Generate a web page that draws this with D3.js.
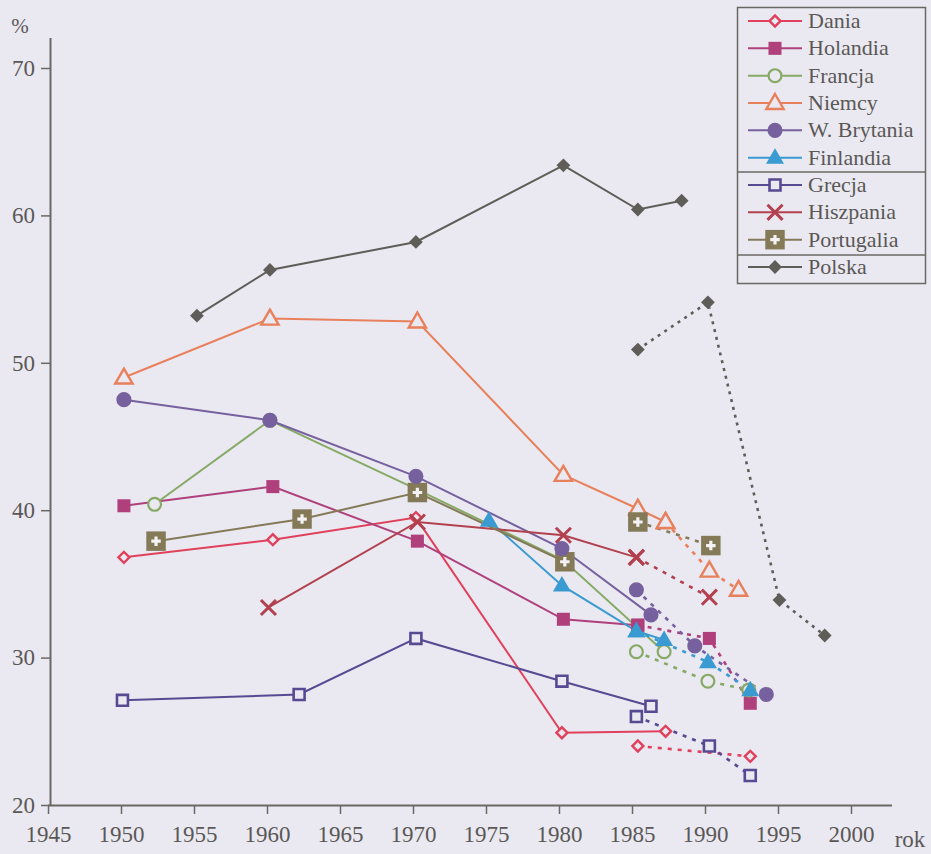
<!DOCTYPE html>
<html><head><meta charset="utf-8">
<script src="https://cdn.jsdelivr.net/npm/d3@7"></script>
<style>
html,body{margin:0;padding:0;background:#eae9f1;}
svg{display:block;}
</style></head>
<body>
<svg id="chart" width="931" height="854"></svg>
<script>
// ---- data (year, %) ----
const seriesNames = ["Dania","Holandia","Francja","Niemcy","W. Brytania","Finlandia","Grecja","Hiszpania","Portugalia","Polska"];
const xTicks = [1945,1950,1955,1960,1965,1970,1975,1980,1985,1990,1995,2000];
const yTicks = [20,30,40,50,60,70];

const daniaSolid = [[1950.2,36.8],[1960.4,38.0],[1970.2,39.5],[1980.2,24.9],[1987.3,25.0]];
const daniaDotted = [[1985.4,24.0],[1993.1,23.3]];
const holandiaSolid = [[1950.2,40.3],[1960.4,41.6],[1970.3,37.9],[1980.3,32.6],[1985.4,32.2]];
const holandiaDotted = [[1985.4,32.2],[1990.3,31.3],[1993.1,26.9]];
const francjaSolid = [[1952.3,40.4],[1960.2,46.1],[1970.3,41.4],[1980.3,36.6],[1987.2,30.4]];
const francjaDotted = [[1985.3,30.4],[1990.2,28.4],[1993.0,27.8]];
const niemcySolid = [[1950.2,49.0],[1960.2,53.0],[1970.3,52.8],[1980.3,42.4],[1985.4,40.1],[1987.3,39.2]];
const niemcyDotted = [[1987.3,39.2],[1990.3,35.9],[1992.3,34.6]];
const brytaniaSolid = [[1950.2,47.5],[1960.2,46.1],[1970.2,42.3],[1980.2,37.4],[1986.3,32.9]];
const brytaniaDotted = [[1985.3,34.6],[1989.3,30.8],[1994.2,27.5]];
const finlandiaSolid = [[1975.2,39.3],[1980.2,34.9],[1985.3,31.8],[1987.2,31.2]];
const finlandiaDotted = [[1985.3,31.8],[1990.2,29.7],[1993.1,27.8]];
const grecjaSolid = [[1950.1,27.1],[1962.2,27.5],[1970.2,31.3],[1980.2,28.4],[1986.3,26.7]];
const grecjaDotted = [[1985.3,26.0],[1990.3,24.0],[1993.1,22.0]];
const hiszpaniaSolid = [[1960.1,33.4],[1970.3,39.2],[1980.3,38.3],[1985.3,36.8]];
const hiszpaniaDotted = [[1985.3,36.8],[1990.3,34.1]];
const portugaliaSolid = [[1952.4,37.9],[1962.4,39.4],[1970.3,41.2],[1980.4,36.5]];
const portugaliaDotted = [[1985.4,39.2],[1990.4,37.6]];
const polskaSolid = [[1955.2,53.2],[1960.2,56.3],[1970.2,58.2],[1980.3,63.4],[1985.4,60.4],[1988.4,61.0]];
const polskaDotted = [[1985.4,50.9],[1990.2,54.1],[1995.1,33.9],[1998.2,31.5]];

const solidData = [daniaSolid,holandiaSolid,francjaSolid,niemcySolid,brytaniaSolid,finlandiaSolid,grecjaSolid,hiszpaniaSolid,portugaliaSolid,polskaSolid];
const dottedData = [daniaDotted,holandiaDotted,francjaDotted,niemcyDotted,brytaniaDotted,finlandiaDotted,grecjaDotted,hiszpaniaDotted,portugaliaDotted,polskaDotted];

// ---- styles ----
const FONT = "Liberation Serif";
const TXT = "#5a5856";
const BG = "#eae9f1";
const colors = ["#e0405c","#b0407c","#86aa66","#e8805c","#76609e","#3a9ad2","#584a92","#b2404e","#857a58","#5e5d58"];
const markers = ["diamondOpen","squareFilled","circleOpen","triangleOpen","circleFilled","triangleFilled","squareOpen","times","portugal","diamondFilled"];

const svg = d3.select("#chart");
const x = d3.scaleLinear().domain([1945,2000]).range([48,851]);
const y = d3.scaleLinear().domain([20,70]).range([805,68]);

function serif(sel, size){
  sel.attr("font-family", FONT).attr("font-size", size).attr("fill", TXT);
  return sel;
}

// axes
const xAxis = d3.axisBottom(x).tickValues(xTicks).tickSize(9).tickPadding(12).tickFormat(d3.format("d"));
const gx = svg.append("g").attr("transform","translate(0,805)").call(xAxis).attr("font-family",FONT).attr("font-size",23);
gx.select(".domain").attr("d","M48,0.5H892").attr("stroke","#6a6864").attr("stroke-width",2);
gx.selectAll(".tick line").attr("stroke","#6a6864").attr("stroke-width",1.5);
serif(gx.selectAll(".tick text"), 23);

const yAxis = d3.axisLeft(y).tickValues(yTicks).tickSize(9).tickPadding(6);
const gy = svg.append("g").attr("transform","translate(50,0)").call(yAxis).attr("font-family",FONT).attr("font-size",23);
gy.select(".domain").attr("d","M0.5,"+y(20)+"V38").attr("stroke","#6a6864").attr("stroke-width",2);
gy.selectAll(".tick line").attr("stroke","#6a6864").attr("stroke-width",1.5);
serif(gy.selectAll(".tick text"), 23);

serif(svg.append("text").attr("x",20).attr("y",33).attr("text-anchor","middle").text("%"), 21);
serif(svg.append("text").attr("x",910).attr("y",847).attr("text-anchor","middle").text("rok"), 23);

const line = d3.line().x(d=>x(d[0])).y(d=>y(d[1]));

// lines
const gl = svg.append("g");
solidData.forEach((s,i)=>{
  gl.append("path").attr("d",line(s)).attr("fill","none").attr("stroke",colors[i]).attr("stroke-width",2);
});
dottedData.forEach((s,i)=>{
  gl.append("path").attr("d",line(s)).attr("fill","none").attr("stroke",colors[i]).attr("stroke-width",2.6)
    .attr("stroke-dasharray", i===9 ? "3,5" : "4,6");
});

function drawMarker(g, type, color, cx, cy){
  const m = g.append("g").attr("transform",`translate(${cx},${cy})`);
  const sym = (t,size)=>d3.symbol().type(t).size(size)();
  switch(type){
    case "diamondOpen":
      m.append("path").attr("d",sym(d3.symbolSquare,60)).attr("transform","rotate(45)").attr("fill",BG).attr("stroke",color).attr("stroke-width",2.4); break;
    case "diamondFilled":
      m.append("path").attr("d",sym(d3.symbolSquare,95)).attr("transform","rotate(45)").attr("fill",color); break;
    case "squareFilled":
      m.append("path").attr("d",sym(d3.symbolSquare,170)).attr("fill",color); break;
    case "squareOpen":
      m.append("path").attr("d",sym(d3.symbolSquare,120)).attr("fill",BG).attr("stroke",color).attr("stroke-width",2.6); break;
    case "circleOpen":
      m.append("path").attr("d",sym(d3.symbolCircle,130)).attr("fill",BG).attr("stroke",color).attr("stroke-width",2.2); break;
    case "circleFilled":
      m.append("path").attr("d",sym(d3.symbolCircle,180)).attr("fill",color); break;
    case "triangleOpen":
      m.append("path").attr("d",sym(d3.symbolTriangle,130)).attr("transform","translate(0,1)").attr("fill",BG).attr("stroke",color).attr("stroke-width",2.4); break;
    case "triangleFilled":
      m.append("path").attr("d",sym(d3.symbolTriangle,140)).attr("transform","translate(0,1)").attr("fill",color); break;
    case "times":
      m.append("path").attr("d",sym(d3.symbolTimes,150)).attr("fill","none").attr("stroke",color).attr("stroke-width",3); break;
    case "portugal":
      m.append("path").attr("d",sym(d3.symbolSquare,380)).attr("fill",color);
      m.append("path").attr("d",sym(d3.symbolCross,50)).attr("fill","#f4f2f4"); break;
  }
}

// markers
const gm = svg.append("g");
const order = [0,1,2,3,8,9,6,7,5,4]; // draw order
order.forEach(i=>{
  solidData[i].concat(dottedData[i]).forEach(d=>drawMarker(gm, markers[i], colors[i], x(d[0]), y(d[1])));
});

// legend
const lg = svg.append("g");
lg.append("rect").attr("x",737.5).attr("y",7.5).attr("width",188).attr("height",276).attr("fill",BG).attr("stroke","#6a6864").attr("stroke-width",1.5);
lg.append("line").attr("x1",737.5).attr("x2",925.5).attr("y1",172).attr("y2",172).attr("stroke","#6a6864").attr("stroke-width",1.5);
lg.append("line").attr("x1",737.5).attr("x2",925.5).attr("y1",255).attr("y2",255).attr("stroke","#6a6864").attr("stroke-width",1.5);
const legendY = d3.scaleLinear().domain([0,9]).range([21,267]);
seriesNames.forEach((name,i)=>{
  const yy = legendY(i);
  lg.append("line").attr("x1",748).attr("x2",802).attr("y1",yy).attr("y2",yy).attr("stroke",colors[i]).attr("stroke-width",2);
  drawMarker(lg, markers[i], colors[i], 775, yy);
  serif(lg.append("text").attr("x",808).attr("y",yy+7).text(name), 22);
});
</script>
</body></html>
